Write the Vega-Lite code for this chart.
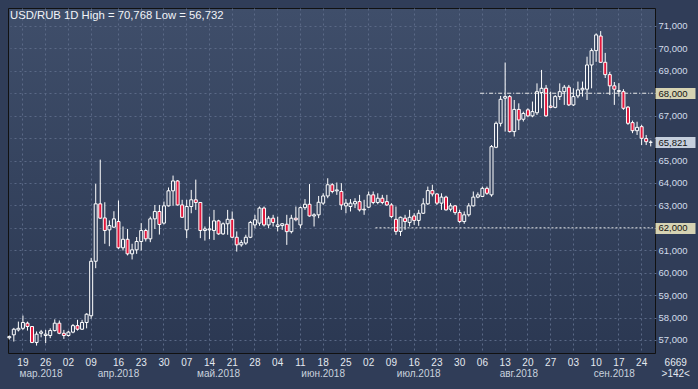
{
  "$schema": "https://vega.github.io/schema/vega-lite/v6.json",
  "width": 647,
  "height": 345,
  "autosize": {"type": "none"},
  "padding": {"left": 8, "top": 8, "right": 43, "bottom": 36},
  "background": "#303d58",
  "title": {"text": "USD/RUB 1D High = 70,768 Low = 56,732", "anchor": "start", "frame": "group", "offset": -13, "dx": 2, "font": "Liberation Sans", "fontSize": 11.3, "fontWeight": "normal", "color": "#f2f4f8"},
  "config": {
    "view": {"fill": {"gradient": "linear", "x1": 0, "y1": 0, "x2": 0, "y2": 1, "stops": [{"offset": 0, "color": "#3f4e6a"}, {"offset": 1, "color": "#2b3852"}]}, "stroke": "#111111", "strokeWidth": 1},
    "font": "Liberation Sans",
    "axis": {"labelFont": "Liberation Sans", "labelFontSize": 9.5, "ticks": false, "domain": false, "title": null}
  },
  "datasets": {
    "c": [
      {"d":"2018-03-14","o":57.10,"h":57.20,"l":57.02,"c":57.15},
      {"d":"2018-03-15","o":57.23,"h":57.54,"l":56.93,"c":57.48},
      {"d":"2018-03-16","o":57.45,"h":57.82,"l":57.38,"c":57.52},
      {"d":"2018-03-19","o":57.52,"h":58.09,"l":57.45,"c":57.78},
      {"d":"2018-03-20","o":57.75,"h":57.82,"l":57.42,"c":57.60},
      {"d":"2018-03-21","o":57.60,"h":57.62,"l":56.86,"c":56.89},
      {"d":"2018-03-22","o":56.89,"h":57.38,"l":56.75,"c":57.26},
      {"d":"2018-03-23","o":57.30,"h":57.45,"l":57.12,"c":57.36},
      {"d":"2018-03-26","o":57.20,"h":57.45,"l":56.86,"c":57.26},
      {"d":"2018-03-27","o":57.20,"h":57.52,"l":57.08,"c":57.42},
      {"d":"2018-03-28","o":57.42,"h":57.92,"l":57.38,"c":57.75},
      {"d":"2018-03-29","o":57.75,"h":57.87,"l":57.26,"c":57.30},
      {"d":"2018-03-30","o":57.30,"h":57.45,"l":57.05,"c":57.20},
      {"d":"2018-04-02","o":57.20,"h":57.41,"l":57.15,"c":57.35},
      {"d":"2018-04-03","o":57.35,"h":57.71,"l":57.30,"c":57.64},
      {"d":"2018-04-04","o":57.64,"h":57.90,"l":57.42,"c":57.48},
      {"d":"2018-04-05","o":57.48,"h":57.90,"l":57.45,"c":57.78},
      {"d":"2018-04-06","o":57.78,"h":58.19,"l":57.52,"c":58.15},
      {"d":"2018-04-09","o":58.08,"h":60.66,"l":57.95,"c":60.51},
      {"d":"2018-04-10","o":60.51,"h":63.96,"l":60.20,"c":63.07},
      {"d":"2018-04-11","o":63.07,"h":65.04,"l":62.40,"c":62.43},
      {"d":"2018-04-12","o":62.44,"h":63.14,"l":61.29,"c":61.88},
      {"d":"2018-04-13","o":61.91,"h":62.33,"l":61.18,"c":62.10},
      {"d":"2018-04-15","o":62.03,"h":62.74,"l":62.00,"c":62.40},
      {"d":"2018-04-16","o":62.28,"h":63.22,"l":61.06,"c":61.11},
      {"d":"2018-04-17","o":61.11,"h":62.06,"l":60.99,"c":61.49},
      {"d":"2018-04-18","o":61.49,"h":61.95,"l":60.77,"c":60.84},
      {"d":"2018-04-19","o":60.84,"h":61.29,"l":60.59,"c":61.02},
      {"d":"2018-04-20","o":61.02,"h":61.59,"l":60.84,"c":61.39},
      {"d":"2018-04-23","o":61.39,"h":62.21,"l":60.99,"c":61.88},
      {"d":"2018-04-24","o":61.88,"h":61.95,"l":61.39,"c":61.51},
      {"d":"2018-04-25","o":61.51,"h":62.50,"l":61.36,"c":62.40},
      {"d":"2018-04-26","o":62.40,"h":63.02,"l":61.95,"c":62.73},
      {"d":"2018-04-27","o":62.73,"h":63.02,"l":61.70,"c":62.15},
      {"d":"2018-04-30","o":62.21,"h":63.17,"l":62.15,"c":62.98},
      {"d":"2018-05-01","o":62.98,"h":63.80,"l":62.95,"c":63.65},
      {"d":"2018-05-02","o":63.65,"h":64.33,"l":62.98,"c":64.09},
      {"d":"2018-05-03","o":64.09,"h":64.13,"l":62.99,"c":63.02},
      {"d":"2018-05-04","o":63.02,"h":63.25,"l":62.45,"c":62.47},
      {"d":"2018-05-07","o":61.91,"h":63.25,"l":61.54,"c":62.95},
      {"d":"2018-05-08","o":62.95,"h":63.69,"l":62.65,"c":63.25},
      {"d":"2018-05-09","o":63.25,"h":64.15,"l":62.80,"c":63.13},
      {"d":"2018-05-10","o":63.13,"h":63.15,"l":61.54,"c":61.88},
      {"d":"2018-05-11","o":61.88,"h":62.06,"l":61.43,"c":61.95},
      {"d":"2018-05-14","o":61.91,"h":62.50,"l":61.50,"c":61.95},
      {"d":"2018-05-15","o":61.88,"h":62.80,"l":61.46,"c":62.31},
      {"d":"2018-05-16","o":62.31,"h":62.36,"l":61.69,"c":61.73},
      {"d":"2018-05-17","o":61.73,"h":62.24,"l":61.69,"c":62.18},
      {"d":"2018-05-18","o":62.18,"h":62.80,"l":61.69,"c":62.38},
      {"d":"2018-05-21","o":62.38,"h":62.73,"l":61.54,"c":61.58},
      {"d":"2018-05-22","o":61.58,"h":61.84,"l":60.94,"c":61.24},
      {"d":"2018-05-23","o":61.24,"h":61.46,"l":61.16,"c":61.34},
      {"d":"2018-05-24","o":61.32,"h":61.69,"l":61.24,"c":61.58},
      {"d":"2018-05-25","o":61.58,"h":62.31,"l":61.54,"c":62.24},
      {"d":"2018-05-28","o":62.13,"h":62.58,"l":61.98,"c":62.36},
      {"d":"2018-05-29","o":62.21,"h":62.95,"l":62.09,"c":62.88},
      {"d":"2018-05-30","o":62.88,"h":62.95,"l":62.06,"c":62.13},
      {"d":"2018-05-31","o":62.13,"h":62.53,"l":61.98,"c":62.43},
      {"d":"2018-06-01","o":62.43,"h":62.58,"l":62.06,"c":62.24},
      {"d":"2018-06-04","o":62.06,"h":62.50,"l":61.84,"c":62.13},
      {"d":"2018-06-05","o":62.10,"h":62.21,"l":61.91,"c":62.18},
      {"d":"2018-06-06","o":62.16,"h":62.58,"l":61.24,"c":61.83},
      {"d":"2018-06-07","o":61.83,"h":62.58,"l":61.75,"c":62.43},
      {"d":"2018-06-08","o":62.43,"h":62.95,"l":62.29,"c":62.36},
      {"d":"2018-06-11","o":62.13,"h":62.95,"l":61.98,"c":62.90},
      {"d":"2018-06-12","o":62.90,"h":63.28,"l":62.80,"c":63.05},
      {"d":"2018-06-13","o":63.05,"h":63.95,"l":62.50,"c":62.53},
      {"d":"2018-06-14","o":62.53,"h":62.65,"l":62.06,"c":62.58},
      {"d":"2018-06-15","o":62.58,"h":63.42,"l":62.43,"c":63.14},
      {"d":"2018-06-18","o":63.10,"h":63.54,"l":63.02,"c":63.42},
      {"d":"2018-06-19","o":63.42,"h":64.21,"l":63.32,"c":63.92},
      {"d":"2018-06-20","o":63.92,"h":63.99,"l":63.54,"c":63.62},
      {"d":"2018-06-21","o":63.65,"h":64.02,"l":63.47,"c":63.69},
      {"d":"2018-06-22","o":63.62,"h":63.99,"l":62.80,"c":63.02},
      {"d":"2018-06-25","o":62.98,"h":63.28,"l":62.65,"c":63.10},
      {"d":"2018-06-26","o":62.95,"h":63.28,"l":62.73,"c":63.10},
      {"d":"2018-06-27","o":63.07,"h":63.32,"l":62.88,"c":63.17},
      {"d":"2018-06-28","o":63.17,"h":63.47,"l":62.73,"c":62.80},
      {"d":"2018-06-29","o":62.80,"h":63.25,"l":62.58,"c":62.83},
      {"d":"2018-07-02","o":62.92,"h":63.62,"l":62.88,"c":63.47},
      {"d":"2018-07-03","o":63.47,"h":63.62,"l":63.05,"c":63.13},
      {"d":"2018-07-04","o":63.13,"h":63.54,"l":63.05,"c":63.32},
      {"d":"2018-07-05","o":63.32,"h":63.47,"l":63.05,"c":63.13},
      {"d":"2018-07-06","o":63.17,"h":63.47,"l":62.98,"c":63.02},
      {"d":"2018-07-09","o":63.02,"h":63.10,"l":62.43,"c":62.50},
      {"d":"2018-07-10","o":62.38,"h":62.95,"l":61.69,"c":61.84},
      {"d":"2018-07-11","o":61.84,"h":62.50,"l":61.64,"c":62.47},
      {"d":"2018-07-12","o":62.43,"h":62.58,"l":61.91,"c":62.28},
      {"d":"2018-07-13","o":62.24,"h":62.80,"l":62.06,"c":62.47},
      {"d":"2018-07-16","o":62.53,"h":62.65,"l":62.13,"c":62.33},
      {"d":"2018-07-17","o":62.33,"h":62.80,"l":62.09,"c":62.65},
      {"d":"2018-07-18","o":62.65,"h":63.32,"l":62.62,"c":63.07},
      {"d":"2018-07-19","o":63.07,"h":63.84,"l":63.02,"c":63.66},
      {"d":"2018-07-20","o":63.66,"h":63.92,"l":63.40,"c":63.51},
      {"d":"2018-07-23","o":63.51,"h":63.54,"l":63.02,"c":63.10},
      {"d":"2018-07-24","o":63.10,"h":63.54,"l":62.80,"c":63.37},
      {"d":"2018-07-25","o":63.37,"h":63.43,"l":62.77,"c":62.80},
      {"d":"2018-07-26","o":62.83,"h":63.10,"l":62.73,"c":62.98},
      {"d":"2018-07-27","o":62.98,"h":63.02,"l":62.58,"c":62.68},
      {"d":"2018-07-30","o":62.68,"h":62.80,"l":62.21,"c":62.28},
      {"d":"2018-07-31","o":62.28,"h":62.73,"l":62.18,"c":62.58},
      {"d":"2018-08-01","o":62.58,"h":63.10,"l":62.50,"c":62.98},
      {"d":"2018-08-02","o":62.98,"h":63.62,"l":62.95,"c":63.37},
      {"d":"2018-08-03","o":63.37,"h":63.58,"l":63.32,"c":63.47},
      {"d":"2018-08-06","o":63.40,"h":63.84,"l":63.37,"c":63.76},
      {"d":"2018-08-07","o":63.76,"h":63.84,"l":63.47,"c":63.54},
      {"d":"2018-08-08","o":63.47,"h":65.69,"l":63.39,"c":65.62},
      {"d":"2018-08-09","o":65.59,"h":66.74,"l":65.55,"c":66.66},
      {"d":"2018-08-10","o":66.66,"h":67.88,"l":66.52,"c":67.73},
      {"d":"2018-08-13","o":67.78,"h":69.37,"l":66.29,"c":67.85},
      {"d":"2018-08-14","o":67.85,"h":67.92,"l":66.25,"c":66.29},
      {"d":"2018-08-15","o":66.29,"h":67.70,"l":66.07,"c":67.28},
      {"d":"2018-08-16","o":67.28,"h":67.55,"l":66.36,"c":66.81},
      {"d":"2018-08-17","o":66.84,"h":67.18,"l":66.74,"c":67.10},
      {"d":"2018-08-20","o":67.26,"h":67.33,"l":66.93,"c":66.99},
      {"d":"2018-08-21","o":66.99,"h":67.63,"l":66.93,"c":67.18},
      {"d":"2018-08-22","o":67.13,"h":68.44,"l":67.03,"c":68.07},
      {"d":"2018-08-23","o":68.03,"h":69.04,"l":67.33,"c":68.22},
      {"d":"2018-08-24","o":68.22,"h":68.37,"l":66.95,"c":66.99},
      {"d":"2018-08-27","o":67.43,"h":68.07,"l":67.33,"c":67.37},
      {"d":"2018-08-28","o":67.37,"h":67.92,"l":67.33,"c":67.85},
      {"d":"2018-08-29","o":67.85,"h":68.44,"l":67.70,"c":68.07},
      {"d":"2018-08-30","o":68.07,"h":68.37,"l":67.48,"c":68.27},
      {"d":"2018-08-31","o":68.27,"h":68.37,"l":67.43,"c":67.48},
      {"d":"2018-09-03","o":67.48,"h":68.22,"l":67.43,"c":67.85},
      {"d":"2018-09-04","o":67.88,"h":68.52,"l":67.78,"c":68.15},
      {"d":"2018-09-05","o":68.15,"h":68.52,"l":67.85,"c":68.22},
      {"d":"2018-09-06","o":68.18,"h":69.63,"l":67.70,"c":69.26},
      {"d":"2018-09-07","o":69.26,"h":70.00,"l":68.22,"c":69.90},
      {"d":"2018-09-10","o":69.90,"h":70.67,"l":69.40,"c":70.60},
      {"d":"2018-09-11","o":70.55,"h":70.77,"l":69.35,"c":69.38},
      {"d":"2018-09-12","o":69.38,"h":69.80,"l":68.68,"c":68.83},
      {"d":"2018-09-13","o":68.83,"h":68.95,"l":67.92,"c":68.33},
      {"d":"2018-09-14","o":68.33,"h":68.50,"l":67.48,"c":68.18},
      {"d":"2018-09-17","o":68.08,"h":68.45,"l":67.85,"c":68.12},
      {"d":"2018-09-18","o":68.07,"h":68.18,"l":67.26,"c":67.33},
      {"d":"2018-09-19","o":67.38,"h":67.43,"l":66.59,"c":66.66},
      {"d":"2018-09-20","o":66.69,"h":66.78,"l":66.22,"c":66.33},
      {"d":"2018-09-21","o":66.33,"h":66.73,"l":66.14,"c":66.48},
      {"d":"2018-09-24","o":66.51,"h":66.59,"l":65.69,"c":65.99},
      {"d":"2018-09-25","o":65.98,"h":66.14,"l":65.69,"c":65.84},
      {"d":"2018-09-26","o":65.81,"h":65.90,"l":65.63,"c":65.821}
    ],
    "lv": [
      {"d": "2018-08-06", "e": "2018-09-26", "y": 68, "t": "dd"},
      {"d": "2018-07-04", "e": "2018-09-26", "y": 62, "t": "dt"}
    ]
  },
  "resolve": {"axis": {"x": "independent", "y": "independent"}},
  "layer": [
    {
      "data": {"name": "c"},
      "mark": {"type": "rule", "color": "#ffffff", "strokeWidth": 1},
      "encoding": {
        "x": {
          "field": "d", "type": "ordinal",
          "scale": {"type": "band", "paddingInner": 0, "paddingOuter": 0, "range": [-1, 645]},
          "axis": {
            "values": ["2018-03-19","2018-03-26","2018-04-02","2018-04-09","2018-04-16","2018-04-23","2018-04-30","2018-05-07","2018-05-14","2018-05-21","2018-05-28","2018-06-04","2018-06-11","2018-06-18","2018-06-25","2018-07-02","2018-07-09","2018-07-16","2018-07-23","2018-07-30","2018-08-06","2018-08-13","2018-08-20","2018-08-27","2018-09-03","2018-09-10","2018-09-17","2018-09-24","2018-09-26"],
            "labelExpr": "datum.value == '2018-09-26' ? '6669' : slice(datum.value, 8)",
            "labelOffset": {"condition": {"test": "datum.value == '2018-09-26'", "value": 25}, "value": 0},
            "labelAngle": 0,
            "labelColor": "#e4e9f0",
            "labelFontSize": 10,
            "labelPadding": 4,
            "labelOverlap": false,
            "grid": true,
            "gridColor": "#5a6986",
            "gridDash": [2, 3],
            "gridOpacity": {"condition": {"test": "datum.value == '2018-09-26'", "value": 0}, "value": 1}
          }
        },
        "y": {
          "field": "l", "type": "quantitative",
          "scale": {"domain": [56.42, 71.8], "zero": false, "nice": false},
          "axis": {
            "orient": "right",
            "values": [57, 58, 59, 60, 61, 62, 63, 64, 65, 66, 67, 68, 69, 70, 71],
            "labelExpr": "datum.value == 62 || datum.value == 66 || datum.value == 68 ? '' : replace(format(datum.value, '.3f'), '.', ',')",
            "labelColor": "#d3dcea",
            "labelPadding": 3,
            "grid": true,
            "gridColor": "#5a6986",
            "gridDash": [2, 3]
          }
        },
        "y2": {"field": "h"}
      }
    },
    {
      "data": {"name": "c"},
      "mark": {"type": "bar", "width": 3, "stroke": "#ffffff", "strokeWidth": 1},
      "encoding": {
        "x": {"field": "d", "type": "ordinal", "axis": null},
        "y": {"field": "o", "type": "quantitative", "axis": null},
        "y2": {"field": "c"},
        "fill": {"condition": {"test": "datum.c < datum.o", "value": "#e3163b"}, "value": "#34425e"}
      }
    },
    {
      "data": {"name": "lv"},
      "mark": {"type": "rule", "color": "#e8e8e8", "strokeWidth": 1},
      "encoding": {
        "x": {
          "field": "d", "type": "ordinal", "bandPosition": 0,
          "axis": {
            "orient": "bottom",
            "values": ["2018-03-23","2018-04-16","2018-05-16","2018-06-18","2018-07-17","2018-08-16","2018-09-14","2018-09-26"],
            "labelExpr": "datum.value == '2018-09-26' ? '>142<' : ['','янв','фев','мар','апр','май','июн','июл','авг','сен','окт','ноя','дек'][toNumber(slice(datum.value,5,7))] + '.2018'",
            "labelOffset": {"condition": {"test": "datum.value == '2018-09-26'", "value": 25}, "value": 0},
            "labelColor": {"condition": {"test": "datum.value == '2018-09-26'", "value": "#e4e9f0"}, "value": "#c9d2de"},
            "labelAngle": 0,
            "offset": 15,
            "labelPadding": 0,
            "labelFontSize": 10,
            "labelOverlap": false,
            "grid": false
          }
        },
        "x2": {"field": "e", "bandPosition": 1},
        "y": {
          "field": "y", "type": "quantitative",
          "axis": {
            "orient": "right",
            "offset": 0,
            "values": [62, 65.821, 68],
            "labelExpr": "replace(format(datum.value, '.3f'), '.', ',')",
            "ticks": true,
            "tickSize": 40,
            "tickWidth": 11,
            "tickColor": {"condition": {"test": "datum.value > 65 && datum.value < 66", "value": "#c5cfdd"}, "value": "#d6d3b3"},
            "labelColor": "#141414",
            "labelPadding": -37,
            "grid": false
          }
        },
        "strokeDash": {"field": "t", "type": "nominal", "scale": {"domain": ["dd", "dt"], "range": [[4, 2, 1, 2], [2, 2]]}, "legend": null}
      }
    }
  ]
}
